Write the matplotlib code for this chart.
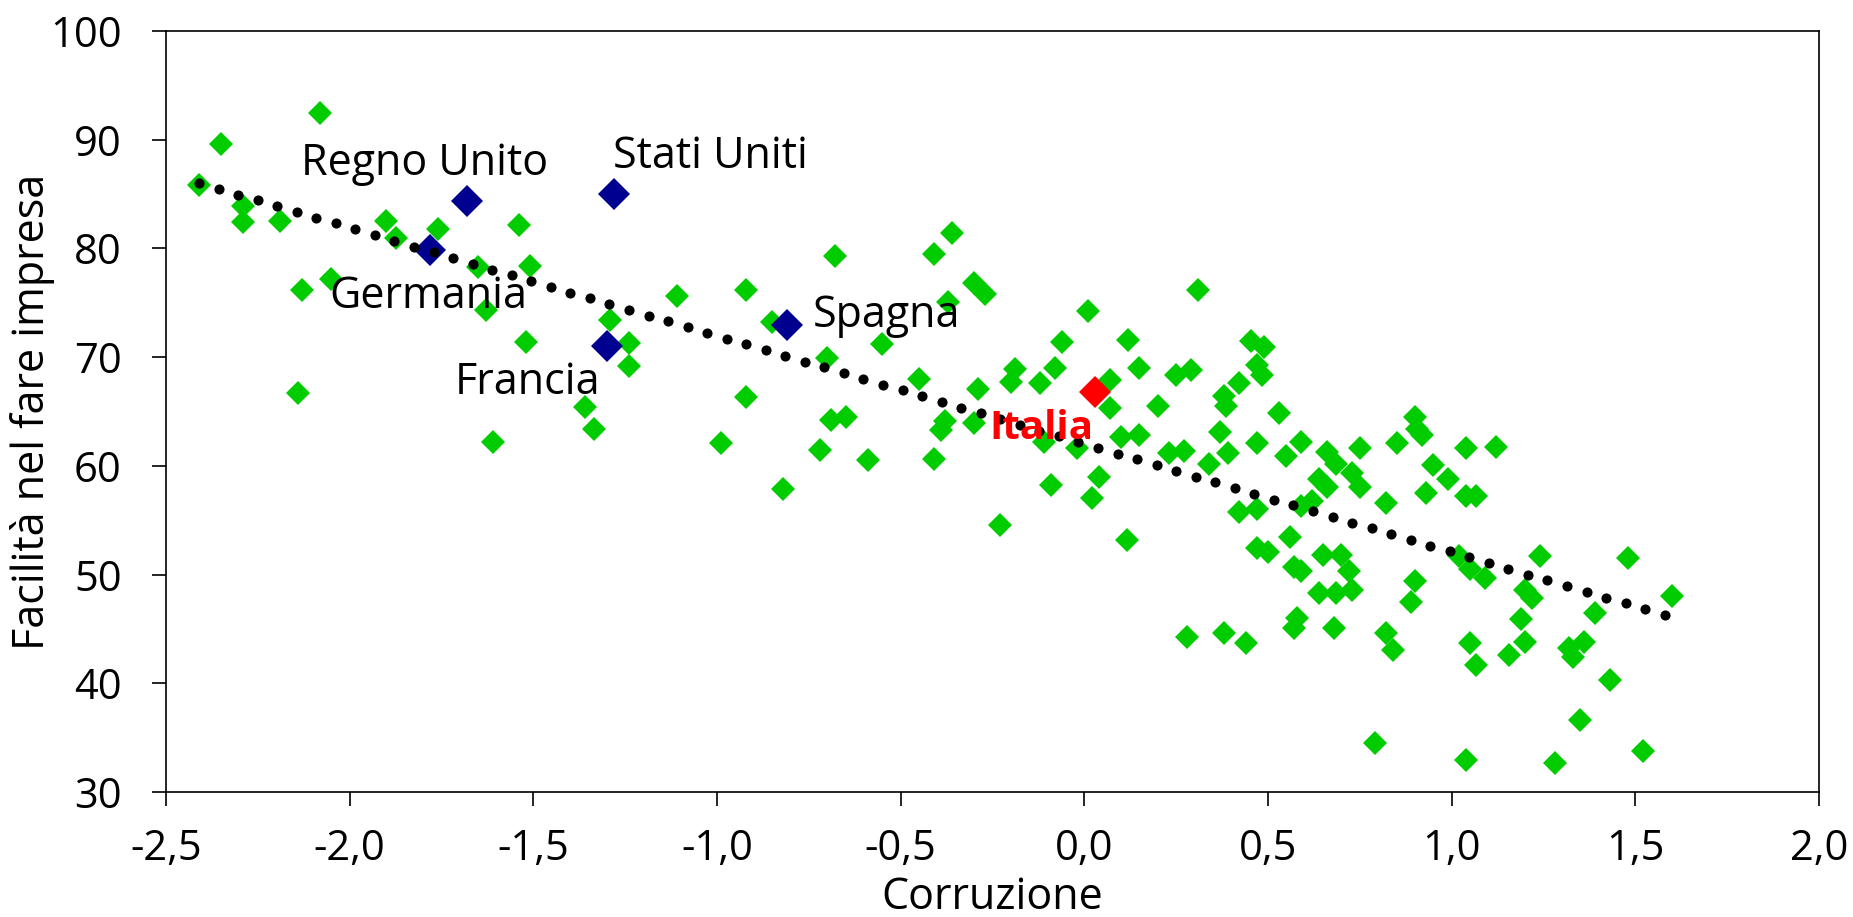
import matplotlib.pyplot as plt
import numpy as np

plt.rcParams["font.family"] = ["Open Sans", "DejaVu Sans"]

# green points: all other countries (Corruzione, Facilita nel fare impresa)
corr = [-2.41, -2.35, -2.08, -2.29, -2.29, -2.19, -1.90, -1.875, -1.76, -1.54,
        -1.65, -1.51, -2.05, -2.13, -1.63, -1.52, -1.29, -2.14, -1.61, -1.36,
        -1.335, -1.24, -1.24, -1.11, -0.99, -0.92, -0.92, -0.85, -0.82, -0.72,
        -0.70, -0.69, -0.68, -0.65, -0.59, -0.55, -0.45, -0.41, -0.41, -0.38,
        -0.39, -0.37, -0.36, -0.30, -0.27, -0.30, -0.29, -0.23, -0.19, -0.20,
        -0.12, -0.11, -0.09, -0.08, -0.06, -0.02, 0.01, 0.02, 0.04, 0.07,
        0.07, 0.10, 0.115, 0.12, 0.15, 0.15, 0.20, 0.23, 0.25, 0.27,
        0.28, 0.29, 0.31, 0.34, 0.37, 0.38, 0.385, 0.39, 0.38, 0.42,
        0.42, 0.44, 0.455, 0.47, 0.47, 0.47, 0.47, 0.485, 0.49, 0.50,
        0.53, 0.55, 0.56, 0.57, 0.57, 0.58, 0.59, 0.59, 0.59, 0.62,
        0.64, 0.64, 0.65, 0.66, 0.66, 0.68, 0.685, 0.685, 0.70, 0.72,
        0.73, 0.73, 0.75, 0.75, 0.79, 0.82, 0.82, 0.84, 0.85, 0.89,
        0.90, 0.90, 0.905, 0.92, 0.93, 0.95, 0.99, 1.02, 1.04, 1.04,
        1.04, 1.05, 1.05, 1.065, 1.065, 1.09, 1.12, 1.155, 1.19, 1.20,
        1.20, 1.22, 1.24, 1.28, 1.32, 1.33, 1.35, 1.36, 1.39, 1.43,
        1.48, 1.52, 1.60]
facil = [85.8, 89.6, 92.5, 83.9, 82.4, 82.5, 82.5, 81.0, 81.8, 82.2,
         78.3, 78.4, 77.2, 76.2, 74.3, 71.4, 73.4, 66.7, 62.2, 65.4,
         63.4, 71.3, 69.2, 75.6, 62.1, 66.3, 76.2, 73.2, 57.9, 61.5,
         69.9, 64.2, 79.3, 64.5, 60.5, 71.2, 68.0, 79.5, 60.6, 64.1,
         63.3, 75.1, 81.4, 76.8, 75.8, 63.9, 67.1, 54.6, 68.9, 67.7,
         67.6, 62.2, 58.2, 69.0, 71.4, 61.6, 74.2, 57.0, 59.0, 67.9,
         65.3, 62.7, 53.2, 71.6, 69.0, 62.8, 65.5, 61.2, 68.4, 61.4,
         44.3, 68.8, 76.2, 60.2, 63.1, 66.4, 65.5, 61.2, 44.6, 67.6,
         55.8, 43.7, 71.5, 69.3, 62.1, 56.0, 52.4, 68.4, 70.9, 52.1,
         64.9, 60.9, 53.5, 50.7, 45.1, 46.0, 62.2, 56.3, 50.3, 56.8,
         58.8, 48.3, 51.8, 61.3, 58.1, 45.1, 60.2, 48.3, 51.8, 50.3,
         59.3, 48.6, 58.1, 61.6, 34.5, 56.6, 44.6, 43.1, 62.1, 47.5,
         49.4, 64.5, 63.4, 62.8, 57.5, 60.1, 58.8, 51.7, 61.6, 57.2,
         32.9, 43.7, 50.5, 57.2, 41.7, 49.7, 61.7, 42.6, 45.9, 43.8,
         48.6, 47.8, 51.7, 32.7, 43.2, 42.4, 36.6, 43.8, 46.5, 40.3,
         51.5, 33.8, 48.0]

# highlighted countries
big_names = ["Regno Unito", "Germania", "Stati Uniti", "Francia", "Spagna"]
big_corr = [-1.68, -1.78, -1.28, -1.30, -0.81]
big_facil = [84.4, 79.9, 85.0, 71.0, 73.0]
label_pos = [(-1.796, 86.8, "center"), (-2.055, 74.5, "left"), (-1.284, 87.4, "left"),
             (-1.713, 66.6, "left"), (-0.739, 72.8, "left")]

ita_corr, ita_facil = 0.03, 66.8

# linear trend line end points
trend_x = [-2.41, 1.58]
trend_y = [86.0, 46.3]
n_dots = 76

fig = plt.figure(figsize=(18.53, 9.17), dpi=100)
ax = fig.add_axes([166 / 1853, 1 - 792 / 917, (1819 - 166) / 1853, (792 - 31) / 917])

ax.plot(corr, facil, "D", color="#00CC00", markersize=12.5, markeredgewidth=0, zorder=2)
ax.plot(big_corr, big_facil, "D", color="#000090", markersize=16, markeredgewidth=0, zorder=3)
ax.plot(ita_corr, ita_facil, "D", color="#FF0000", markersize=16, markeredgewidth=0, zorder=3)

# dotted trend line (round dots, like the spreadsheet "round dot" style)
tx = np.linspace(trend_x[0], trend_x[1], n_dots)
ty = np.interp(tx, trend_x, trend_y[::1] if trend_x[0] < trend_x[1] else trend_y[::-1])
ax.plot(tx, ty, "o", color="black", markersize=7.3, markeredgewidth=0, zorder=4)

for name, (lx, ly, ha) in zip(big_names, label_pos):
    ax.text(lx, ly, name, fontsize=31, ha=ha, va="baseline", zorder=5)
ax.text(-0.258, 62.5, "Italia", fontsize=29, color="#FF0000", fontweight="bold",
        ha="left", va="baseline", zorder=5)

ax.set_xlim(-2.5, 2.0)
ax.set_ylim(30, 100)
ax.set_xticks(np.arange(-2.5, 2.01, 0.5))
ax.set_yticks(np.arange(30, 101, 10))
ax.set_xticklabels([f"{v:.1f}".replace(".", ",") for v in np.arange(-2.5, 2.01, 0.5)])

ax.tick_params(axis="both", direction="out", length=10, width=1.2, labelsize=30)
ax.tick_params(axis="x", pad=16)
ax.tick_params(axis="y", pad=22)
for s in ax.spines.values():
    s.set_linewidth(1.2)

ax.set_xlabel("Corruzione", fontsize=31, labelpad=4)
ax.set_ylabel("Facilità nel fare impresa", fontsize=31, labelpad=-4)

fig.savefig("out.png", dpi=100)
